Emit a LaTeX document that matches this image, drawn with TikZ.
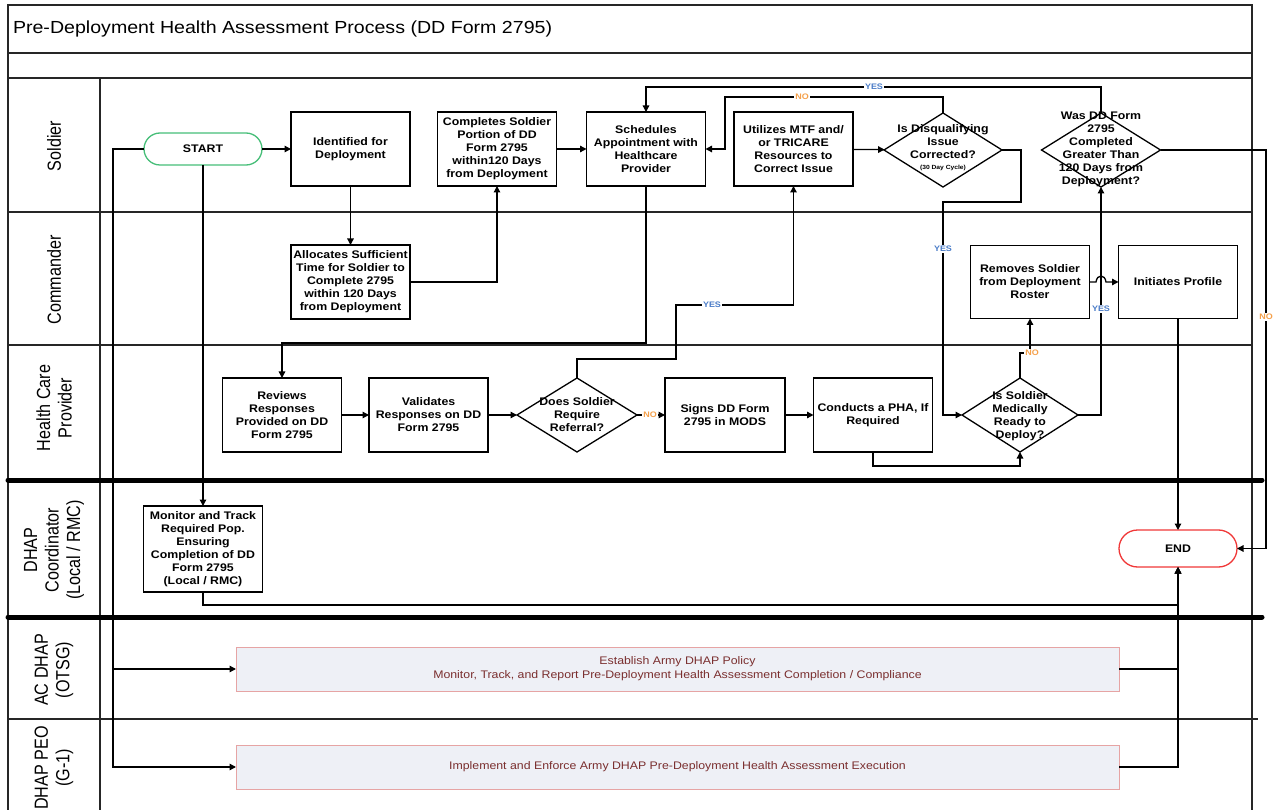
\documentclass[tikz,border=0pt]{standalone}
\usepackage{fontspec}
\setmainfont{Liberation Sans}[FakeStretch=1.12]
\newfontfamily\lanefont{Liberation Sans}[FakeStretch=0.85]
\usetikzlibrary{arrows.meta,shapes.geometric}
\definecolor{startgreen}{HTML}{46BE78}
\definecolor{endred}{HTML}{F03838}
\definecolor{yesblue}{HTML}{4A7CC8}
\definecolor{noorange}{HTML}{F5A04A}
\definecolor{barfill}{HTML}{EEF0F6}
\definecolor{barline}{HTML}{E6A4A4}
\definecolor{bartext}{HTML}{7A2E2E}
\newcommand\bxfont{\fontsize{11}{13}\selectfont\bfseries}
\newcommand\lanetext{\lanefont\fontsize{19}{21.5}\selectfont}
\begin{document}
\begin{tikzpicture}[x=1pt,y=-1pt,
  every node/.style={inner sep=0pt,outer sep=0pt},
  border/.style={line width=1.2pt,draw=black!85},
  lanesep/.style={line width=5pt,line cap=round},
  lanehdr/.style={rotate=90,align=center,font=\lanetext},
  proc/.style={draw,line width=1.3pt,fill=white,minimum width=119,minimum height=74,align=center,font=\bxfont},
  decision/.style={draw,diamond,line width=1.3pt,fill=white,minimum width=118,minimum height=74},
  dtext/.style={align=center,font=\bxfont},
  terminal/.style={draw,line width=1.3pt,fill=white,minimum width=118,minimum height=34,rounded corners=17,font=\bxfont},
  widebar/.style={draw=barline,fill=barfill,line width=1pt,minimum width=883,minimum height=44,align=center,text=bartext,font=\fontsize{11}{14}\selectfont},
  flow/.style={line width=1.3pt,-{Triangle[length=6.5pt,width=6.5pt]}},
  yeslbl/.style={fill=white,inner sep=1pt,text=yesblue,font=\fontsize{8}{8}\selectfont\bfseries},
  nolbl/.style={fill=white,inner sep=1pt,text=noorange,font=\fontsize{8}{8}\selectfont\bfseries},
]
\useasboundingbox (0,0) rectangle (1275,810);

% ---- frame, title row and swim lanes ----
\draw[border] (8,5) rectangle (1252,830);
\draw[border] (8,53) -- (1252,53);
\draw[border] (8,78) -- (1252,78);
\draw[border] (100,78) -- (100,830);
\draw[border] (8,212) -- (1252,212);
\draw[border] (8,345) -- (1252,345);
\draw[lanesep] (8,480) -- (1262,480);
\draw[lanesep] (8,617) -- (1262,617);
\draw[border] (8,719) -- (1258,719);

\node[anchor=west,font=\fontsize{17.5}{20}\selectfont] (title) at (13,29) {Pre-Deployment Health Assessment Process (DD Form 2795)};

\node[lanehdr] (hSoldier) at (54,146) {Soldier};
\node[lanehdr] (hCmd) at (54,280) {Commander};
\node[lanehdr] (hHcp) at (54,408) {Health Care\\Provider};
\node[lanehdr] (hCoord) at (54,550) {DHAP\\Coordinator\\(Local / RMC)};
\node[lanehdr] (hAc) at (54,670) {AC DHAP\\(OTSG)};
\node[lanehdr] (hPeo) at (54,768) {DHAP PEO\\(G-1)};

% ---- Soldier lane ----
\node[terminal,draw=startgreen,minimum height=32,rounded corners=16] (start) at (203,149) {START};
\node[proc] (ident) at (350.5,149) {Identified for\\Deployment};
\node[proc] (compl) at (497,149) {Completes Soldier\\Portion of DD\\Form 2795\\within120 Days\\from Deployment};
\node[proc] (sched) at (646,149) {Schedules\\Appointment with\\Healthcare\\Provider};
\node[proc] (util) at (793.5,149) {Utilizes MTF and/\\or TRICARE\\Resources to\\Correct Issue};
\node[decision] (dq) at (943,150) {};
\node[dtext] (dqt) at (943,148) {Is Disqualifying\\Issue\\Corrected?\\[-2pt]{\fontsize{6}{7}\selectfont(30 Day Cycle)}};
\node[decision,minimum width=119] (was) at (1101,150) {};
\node[dtext] (wast) at (1101,149) {Was DD Form\\2795\\Completed\\Greater Than\\120 Days from\\Deployment?};

% ---- Commander lane ----
\node[proc] (alloc) at (350.5,282) {Allocates Sufficient\\Time for Soldier to\\Complete 2795\\within 120 Days\\from Deployment};
\node[proc,minimum height=73] (remove) at (1030,282) {Removes Soldier\\from Deployment\\Roster};
\node[proc,minimum height=73] (init) at (1178,282) {Initiates Profile};

% ---- Health Care Provider lane ----
\node[proc] (review) at (282,415) {Reviews\\Responses\\Provided on DD\\Form 2795};
\node[proc] (valid) at (428.5,415) {Validates\\Responses on DD\\Form 2795};
\node[decision,minimum width=120] (ref) at (577,415) {};
\node[dtext] (reft) at (577,415) {Does Soldier\\Require\\Referral?};
\node[proc,minimum width=120] (signs) at (725,415) {Signs DD Form\\2795 in MODS};
\node[proc] (conduct) at (873,415) {Conducts a PHA, If\\Required};
\node[decision,minimum width=116] (mr) at (1020,415) {};
\node[dtext] (mrt) at (1020,416) {Is Soldier\\Medically\\Ready to\\Deploy?};

% ---- DHAP Coordinator lane ----
\node[proc,minimum height=86] (monitor) at (203,549) {Monitor and Track\\Required Pop.\\Ensuring\\Completion of DD\\Form 2795\\(Local / RMC)};
\node[terminal,draw=endred,minimum height=37,rounded corners=18.5] (endn) at (1178,548.5) {END};

% ---- AC DHAP and DHAP PEO lanes ----
\node[widebar] (ac) at (677.5,669) {Establish Army DHAP Policy\\Monitor, Track, and Report Pre-Deployment Health Assessment Completion / Compliance};
\node[widebar] (peo) at (677.5,767) {Implement and Enforce Army DHAP Pre-Deployment Health Assessment Execution};

% ---- routing points ----
\coordinate (sTrunk) at (113,767);
\coordinate (sBranch) at (113,669);
\coordinate (hcTop) at (282,343);
\coordinate (refUp) at (577,359);
\coordinate (refJog) at (676,305);
\coordinate (noTop) at (725,97);
\coordinate (yesTop) at (646,87);
\coordinate (dqOut) at (1021,202);
\coordinate (dqDown) at (943,202);
\coordinate (phaLow) at (873,466);
\coordinate (mrUp) at (1020,353);
\coordinate (wasOut) at (1266,150);
\coordinate (monLow) at (203,605);
\coordinate (hopA) at (1096,282);
\coordinate (hopB) at (1106,282);

% ---- connectors ----
\draw[flow] (start) -- (ident);
\draw[flow] (start.west) -| (sTrunk) -- (peo.west);
\draw[flow] (sBranch) -- (ac.west);
\draw[flow] (start) -- (monitor);
\draw[flow] (ident) -- (alloc);
\draw[flow] (alloc.east) -| (compl.south);
\draw[flow] (compl) -- (sched);
\draw[flow] (sched.south) |- (hcTop) -- (review.north);
\draw[flow] (review) -- (valid);
\draw[flow] (valid) -- (ref);
\draw[flow] (ref.north) -- (refUp) -| (refJog) -| (util.south);
\draw[flow] (ref) -- (signs);
\draw[flow] (signs) -- (conduct);
\draw[flow] (conduct.south) -- (phaLow) -| (mr.south);
\draw[flow] (mr.north) -- (mrUp) -| (remove.south);
\draw[flow] (mr.east) -| (was.south);
\draw[flow] (remove.east) -- (hopA) .. controls +(1,-8) and +(-1,-8) .. (hopB) -- (init.west);
\draw[flow] (util) -- (dq);
\draw[flow] (dq.north) |- (noTop) |- (sched.east);
\draw[flow] (was.north) |- (yesTop) -- (sched.north);
\draw[flow] (dq.east) -| (dqOut) -- (dqDown) |- (mr.west);
\draw[flow] (was.east) -- (wasOut) |- (endn.east);
\draw[flow] (init) -- (endn);
\draw[flow] (monitor.south) -- (monLow) -| (endn.south);
\draw[flow] (ac.east) -| (endn.south);
\draw[flow] (peo.east) -| (endn.south);

% ---- branch labels ----
\node[yeslbl] (lYes1) at (874,87) {YES};
\node[nolbl] (lNo1) at (802,97) {NO};
\node[yeslbl] (lYes2) at (943,249) {YES};
\node[yeslbl] (lYes3) at (712,305) {YES};
\node[yeslbl] (lYes4) at (1101,309) {YES};
\node[nolbl] (lNo2) at (1266,317) {NO};
\node[nolbl] (lNo3) at (1032,353) {NO};
\node[nolbl] (lNo4) at (650,415) {NO};
\end{tikzpicture}
\end{document}
